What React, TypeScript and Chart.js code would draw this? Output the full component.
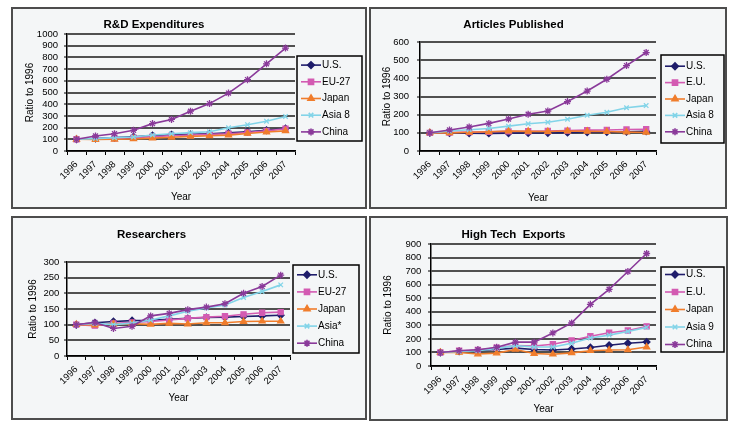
import React, { useEffect, useRef } from 'react';
import { Chart, registerables } from 'chart.js';
import { drawPoint } from 'chart.js/helpers';

Chart.register(...registerables);

// ---------- DATA ----------
const YEARS = ['1996', '1997', '1998', '1999', '2000', '2001', '2002', '2003', '2004', '2005', '2006', '2007'];

const RD_NAMES = ['U.S.', 'EU-27', 'Japan', 'Asia 8', 'China'];
const RD_US = [100, 107, 114, 122, 133, 140, 142, 147, 155, 165, 178, 192];
const RD_EU = [100, 104, 108, 114, 122, 130, 137, 142, 147, 158, 172, 190];
const RD_JP = [100, 98, 100, 103, 110, 117, 125, 130, 136, 150, 162, 172];
const RD_ASIA = [100, 106, 114, 120, 137, 148, 157, 165, 198, 225, 255, 295];
const RD_CN = [100, 128, 148, 177, 234, 270, 340, 405, 495, 610, 745, 880];

const AR_NAMES = ['U.S.', 'E.U.', 'Japan', 'Asia 8', 'China'];
const AR_US = [100, 99, 98, 97, 98, 99, 99, 101, 103, 104, 106, 108];
const AR_EU = [100, 102, 104, 106, 108, 109, 110, 112, 115, 116, 118, 120];
const AR_JP = [100, 100, 103, 106, 110, 108, 107, 110, 108, 107, 104, 102];
const AR_ASIA = [100, 110, 117, 124, 137, 150, 158, 175, 197, 213, 238, 250];
const AR_CN = [100, 116, 132, 152, 176, 202, 220, 272, 330, 395, 470, 542];

const RS_NAMES = ['U.S.', 'EU-27', 'Japan', 'Asia*', 'China'];
const RS_US = [100, 106, 110, 113, 114, 117, 120, 123, 124, 126, 128, 130];
const RS_EU = [100, 97, 104, 107, 110, 115, 120, 124, 127, 133, 138, 140];
const RS_JP = [100, 99, 102, 103, 101, 104, 102, 106, 106, 110, 111, 111];
const RS_ASIA = [100, 104, 100, 105, 115, 128, 143, 153, 163, 187, 206, 227];
const RS_CN = [100, 107, 88, 95, 128, 136, 148, 156, 167, 200, 222, 258];

const HT_NAMES = ['U.S.', 'E.U.', 'Japan', 'Asia 9', 'China'];
const HT_US = [100, 108, 115, 122, 132, 122, 118, 125, 137, 153, 168, 177];
const HT_EU = [100, 112, 118, 135, 150, 148, 160, 188, 220, 245, 262, 292];
const HT_JP = [100, 100, 88, 95, 122, 92, 87, 97, 113, 118, 120, 140];
const HT_ASIA = [100, 108, 112, 130, 150, 140, 140, 168, 207, 228, 255, 285];
const HT_CN = [100, 113, 120, 138, 176, 176, 244, 318, 455, 566, 697, 830];

// ---------- STYLE ----------
const FONT = "'Liberation Sans', Arial, sans-serif";
const BG = '#f4f6f7';
const STYLES = [
  { color: '#1f1d6b', point: 'rectRot', r: 3.3 },
  { color: '#d35bb2', point: 'rect', r: 3.6 },
  { color: '#f07d2c', point: 'triangle', r: 3.5 },
  { color: '#82d4e8', point: 'crossRot', r: 3.2 },
  { color: '#8a3a9a', point: 'star', r: 3.5 },
];

const boxLegend = {
  id: 'boxLegend',
  afterDraw(chart: any, _args: any, opts: any) {
    const ctx = chart.ctx;
    const [x0, y0, x1, y1] = opts.box;
    ctx.save();
    ctx.fillStyle = BG;
    ctx.fillRect(x0, y0, x1 - x0, y1 - y0);
    ctx.strokeStyle = '#000';
    ctx.lineWidth = 1.5;
    ctx.strokeRect(x0, y0, x1 - x0, y1 - y0);
    const ds = chart.data.datasets;
    const n = ds.length;
    const cy = (y0 + y1) / 2;
    ds.forEach((d: any, i: number) => {
      const y = cy + (i - (n - 1) / 2) * opts.step;
      ctx.strokeStyle = d.borderColor;
      ctx.lineWidth = d.borderWidth;
      ctx.beginPath();
      ctx.moveTo(x0 + 4, y);
      ctx.lineTo(x0 + 24, y);
      ctx.stroke();
      ctx.fillStyle = d.pointBackgroundColor;
      ctx.strokeStyle = d.pointBorderColor;
      drawPoint(ctx, { pointStyle: d.pointStyle, radius: d.pointRadius, rotation: 0, borderWidth: d.pointBorderWidth }, x0 + 14, y);
      ctx.fillStyle = '#000';
      ctx.font = `10px ${FONT}`;
      ctx.textBaseline = 'middle';
      ctx.textAlign = 'left';
      ctx.fillText(d.label, x0 + 25, y);
    });
    ctx.restore();
  },
};

type Cfg = {
  title: string;
  names: string[];
  series: number[][];
  yMax: number;
  yStep: number;
  left: number; top: number; w: number; h: number;
  padRight: number; yW: number; xH: number;
  titleTop: number; titleBot: number;
  yTickPad: number; yTitlePad: number; xTitlePad: number;
  box: number[]; step: number;
};

function Panel({ cfg }: { cfg: Cfg }) {
  const ref = useRef<HTMLCanvasElement>(null);
  const cw = cfg.w - 4;
  const ch = cfg.h - 4;
  useEffect(() => {
    const datasets = cfg.series.map((data, i) => ({
      label: cfg.names[i],
      data,
      borderColor: STYLES[i].color,
      backgroundColor: STYLES[i].color,
      borderWidth: 1.6,
      pointStyle: STYLES[i].point,
      pointRadius: STYLES[i].r,
      pointBackgroundColor: STYLES[i].color,
      pointBorderColor: STYLES[i].color,
      pointBorderWidth: 1.3,
      tension: 0,
      order: 5 - i,
    }));
    const chart = new Chart(ref.current as HTMLCanvasElement, {
      type: 'line',
      data: { labels: YEARS, datasets },
      plugins: [boxLegend],
      options: {
        animation: false,
        responsive: false,
        maintainAspectRatio: false,
        layout: { padding: { left: 0, right: cfg.padRight, top: 0, bottom: 0 } },
        plugins: {
          legend: { display: false },
          tooltip: { enabled: false },
          title: {
            display: true,
            text: cfg.title,
            color: '#000',
            font: { family: FONT, size: 11.5, weight: 'bold', lineHeight: 1.2 },
            padding: { top: cfg.titleTop, bottom: cfg.titleBot },
          },
          boxLegend: { box: cfg.box, step: cfg.step },
        } as any,
        scales: {
          x: {
            type: 'category',
            offset: true,
            grid: { display: true, drawOnChartArea: false, drawTicks: true, tickLength: 4, tickColor: '#000', tickWidth: 1, offset: true },
            border: { display: true, color: '#000', width: 1.5 },
            ticks: { autoSkip: false, minRotation: 45, maxRotation: 45, color: '#000', padding: 4, font: { family: FONT, size: 9.5 } },
            title: { display: true, text: 'Year', color: '#000', font: { family: FONT, size: 10 }, padding: { top: 0, bottom: cfg.xTitlePad } },
            afterFit: (s: any) => { s.height = cfg.xH; },
          },
          y: {
            min: 0,
            max: cfg.yMax,
            ticks: {
              stepSize: cfg.yStep,
              autoSkip: false,
              maxTicksLimit: 50,
              color: '#000',
              padding: cfg.yTickPad,
              font: { family: FONT, size: 9.5 },
              callback: (v: any) => String(v),
            },
            grid: { color: '#505050', lineWidth: 2, drawTicks: true, tickLength: 3, tickColor: '#000', tickWidth: 1 },
            border: { display: true, color: '#000', width: 1.5 },
            title: { display: true, text: 'Ratio to 1996', color: '#000', font: { family: FONT, size: 10 }, padding: { top: cfg.yTitlePad, bottom: 0 } },
            afterFit: (s: any) => { s.width = cfg.yW; },
          },
        } as any,
      },
    } as any);
    return () => chart.destroy();
  }, []);
  return (
    <div
      style={{
        position: 'absolute', left: cfg.left, top: cfg.top, width: cfg.w, height: cfg.h,
        border: '2px solid #4d4d4d', boxSizing: 'border-box', background: BG,
      }}
    >
      <canvas ref={ref} width={cw} height={ch} style={{ display: 'block', width: cw, height: ch }} />
    </div>
  );
}

const PANELS: Cfg[] = [
  {
    title: 'R&D Expenditures', names: RD_NAMES, series: [RD_US, RD_EU, RD_JP, RD_ASIA, RD_CN],
    yMax: 1000, yStep: 100,
    left: 11, top: 7, w: 356, h: 202,
    padRight: 70, yW: 54, xH: 56, titleTop: 9, titleBot: 2.2,
    yTickPad: 6, yTitlePad: 11, xTitlePad: 3.7,
    box: [284, 47, 349, 132], step: 16.7,
  },
  {
    title: 'Articles Published', names: AR_NAMES, series: [AR_US, AR_EU, AR_JP, AR_ASIA, AR_CN],
    yMax: 600, yStep: 100,
    left: 369, top: 7, w: 358, h: 202,
    padRight: 69, yW: 49, xH: 56, titleTop: 9, titleBot: 10.2,
    yTickPad: 8, yTitlePad: 10, xTitlePad: 2.7,
    box: [290, 46, 353, 134], step: 16.4,
  },
  {
    title: 'Researchers', names: RS_NAMES, series: [RS_US, RS_EU, RS_JP, RS_ASIA, RS_CN],
    yMax: 300, yStep: 50,
    left: 11, top: 216, w: 356, h: 204,
    padRight: 75, yW: 54, xH: 62, titleTop: 9.5, titleBot: 20.7,
    yTickPad: 4.7, yTitlePad: 14, xTitlePad: 13.7,
    box: [280, 47, 346, 135], step: 17.1,
  },
  {
    title: 'High Tech  Exports', names: HT_NAMES, series: [HT_US, HT_EU, HT_JP, HT_ASIA, HT_CN],
    yMax: 900, yStep: 100,
    left: 369, top: 216, w: 359, h: 205,
    padRight: 70, yW: 60, xH: 53, titleTop: 9.5, titleBot: 2.7,
    yTickPad: 6.7, yTitlePad: 11, xTitlePad: 3.7,
    box: [290, 49, 353, 134], step: 17.5,
  },
];

export default function App() {
  return (
    <div style={{ position: 'fixed', left: 0, top: 0, width: 739, height: 428, background: '#fff', overflow: 'hidden' }}>
      {PANELS.map((p, i) => (
        <Panel key={i} cfg={p} />
      ))}
    </div>
  );
}
